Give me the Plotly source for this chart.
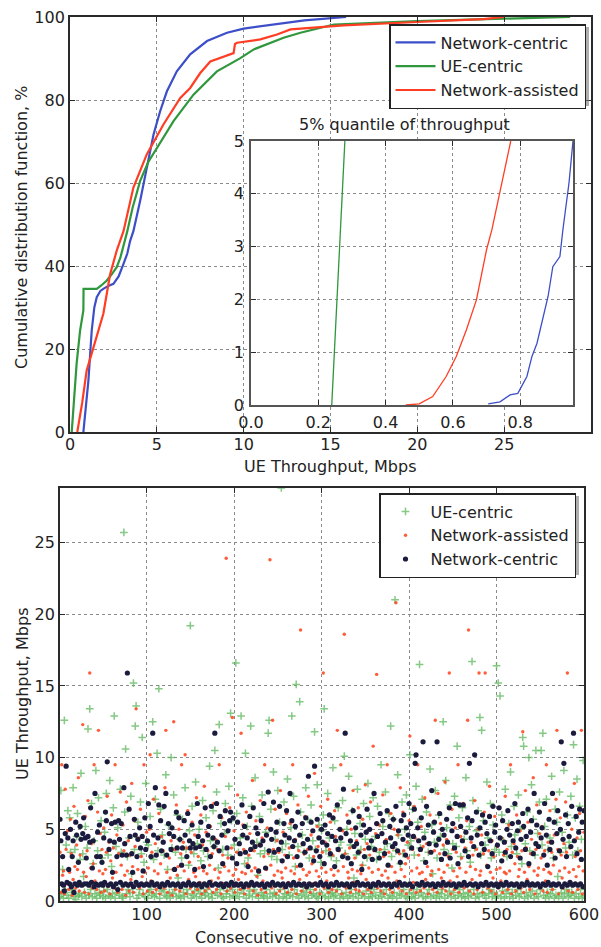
import plotly.graph_objects as go

FONT = "DejaVu Sans"

# ---------------- Top: CDF of UE throughput ----------------
NC_CDF_X = [0.77, 0.9, 1.06, 1.25, 1.4, 1.54, 1.75, 1.92, 2.2, 2.5, 2.8, 3.08, 3.3, 3.46, 3.65,
            4.04, 4.42, 4.81, 5.19, 5.58, 6.15, 6.92, 7.89, 9.04, 10.0, 11.73, 13.5, 15.9]
NC_CDF_Y = [0, 5, 12.4, 24.4, 30, 32.5, 34, 34.5, 35.2, 35.7, 37.5, 40.5, 43, 46, 48.4,
            55.7, 63.7, 71.7, 77.3, 82.1, 86.9, 91, 94.2, 96.2, 97.2, 98.2, 99.2, 100]

UE_CDF_X = [0.1, 0.2, 0.3, 0.38, 0.58, 0.7, 0.77, 0.78, 1.54, 1.8, 2.12, 2.4, 2.69, 2.9, 3.1,
            3.3, 3.6, 4.04, 4.5, 5.0, 5.96, 7.11, 8.46, 9.81, 10.58, 12.3, 13.27, 15.2, 20.0, 25.0, 28.8]
UE_CDF_Y = [0, 6, 12, 16.4, 24.4, 28, 29.3, 34.5, 34.5, 35.3, 36.5, 38, 39.7, 42, 45,
            48.4, 54, 60.5, 65, 68.5, 74.9, 81.3, 86.9, 90.1, 92.2, 95, 96.2, 98.2, 99, 99.6, 100]

NA_CDF_X = [0.42, 0.7, 0.96, 1.35, 1.92, 2.31, 2.69, 3.08, 3.65, 4.42, 5.38, 6.35, 6.92, 7.5,
            8.08, 9.42, 9.5, 9.62, 10.96, 11.92, 12.7, 15.75, 18.9, 20.0, 23.8, 25.0]
NA_CDF_Y = [0, 7, 14.8, 20.4, 28.5, 38, 43.7, 48.4, 58.9, 66.9, 74.1, 80.5, 82.9, 86.5,
            89.3, 91.3, 93.5, 93.8, 94.6, 95.8, 97, 98, 98.5, 98.8, 99.5, 100]

# Inset: 5% quantile
INSET_UE_X = [0.24, 0.25, 0.26, 0.27, 0.279]
INSET_UE_Y = [0, 1.3, 2.6, 3.9, 5]
INSET_NA_X = [0.46, 0.50, 0.54, 0.58, 0.61, 0.64, 0.67, 0.70, 0.716, 0.745, 0.772]
INSET_NA_Y = [0, 0.02, 0.16, 0.54, 0.92, 1.42, 1.99, 2.94, 3.32, 4.2, 5]
INSET_NC_X = [0.705, 0.74, 0.77, 0.793, 0.82, 0.835, 0.85, 0.865, 0.883, 0.897, 0.918, 0.927, 0.945, 0.957]
INSET_NC_Y = [0.02, 0.06, 0.19, 0.22, 0.54, 0.92, 1.17, 1.55, 2.06, 2.62, 2.81, 3.32, 4.2, 5]

TOP_XTICKS = [0, 5, 10, 15, 20, 25, 30]
TOP_YTICKS = [0, 20, 40, 60, 80, 100]
INSET_XTICKS = [0.0, 0.2, 0.4, 0.6, 0.8]
INSET_XTICKTEXT = ["0.0", "0.2", "0.4", "0.6", "0.8"]
INSET_YTICKS = [0, 1, 2, 3, 4, 5]
BOT_XTICKS = [100, 200, 300, 400, 500, 600]
BOT_YTICKS = [0, 5, 10, 15, 20, 25]

NC_TP = [
    5.7, 4.2, 1.2, 3.1, 1.1, 0.7, 4.7, 9.4, 1.3, 4.4,
    2.2, 1.2, 5.0, 1.0, 3.1, 4.2, 0.6, 1.2, 5.5, 4.6,
    1.1, 2.7, 1.3, 5.2, 4.3, 1.1, 4.7, 5.8, 1.2, 4.4,
    3.0, 1.2, 4.5, 1.1, 4.1, 6.5, 1.3, 2.3, 4.2, 1.0,
    7.5, 1.2, 3.1, 4.8, 1.1, 5.3, 3.1, 1.2, 2.7, 1.1,
    4.4, 1.3, 6.2, 5.6, 9.7, 1.1, 3.6, 4.2, 1.2, 5.4,
    2.0, 1.0, 4.1, 5.5, 1.2, 3.1, 0.8, 5.6, 4.3, 1.3,
    5.4, 3.2, 1.1, 7.9, 4.0, 1.2, 3.2, 15.9, 1.1, 6.4,
    4.5, 1.2, 3.3, 2.0, 1.0, 5.7, 4.6, 1.3, 3.1, 4.3,
    1.1, 5.1, 3.7, 1.2, 4.5, 2.1, 1.1, 5.8, 3.6, 1.2,
    4.2, 6.8, 1.1, 5.2, 3.1, 1.3, 11.7, 4.6, 1.1, 7.9,
    3.2, 1.2, 4.4, 6.7, 1.0, 5.6, 3.5, 1.2, 4.1, 6.6,
    1.1, 7.5, 3.2, 1.3, 5.4, 4.7, 1.1, 3.6, 5.1, 1.2,
    4.5, 2.2, 1.1, 6.2, 3.7, 1.2, 5.8, 4.3, 1.0, 2.5,
    3.7, 1.2, 5.6, 4.6, 1.1, 3.1, 6.1, 1.3, 4.2, 3.7,
    1.1, 5.3, 4.0, 1.2, 2.2, 3.7, 1.1, 6.8, 4.5, 1.2,
    3.8, 5.5, 1.0, 4.2, 2.4, 1.2, 6.5, 3.6, 1.1, 4.6,
    5.2, 1.3, 3.1, 6.6, 1.1, 4.4, 3.8, 11.7, 1.2, 6.8,
    4.1, 1.1, 3.5, 5.9, 1.2, 4.6, 2.6, 1.0, 5.4, 6.3,
    1.2, 3.7, 4.9, 1.1, 5.6, 6.2, 1.3, 3.0, 5.8, 1.1,
    4.3, 1.2, 2.6, 5.5, 1.1, 4.0, 3.3, 1.2, 6.7, 4.6,
    1.0, 5.2, 3.4, 1.2, 4.4, 2.4, 1.1, 5.9, 3.6, 1.3,
    4.1, 6.5, 1.1, 3.8, 5.1, 1.2, 4.7, 2.1, 1.1, 3.9,
    5.6, 1.2, 4.2, 6.8, 1.0, 2.3, 4.6, 1.2, 7.6, 3.5,
    1.1, 5.0, 4.3, 1.3, 6.9, 3.4, 1.1, 4.8, 5.5, 1.2,
    3.6, 6.6, 1.1, 4.1, 2.8, 1.2, 5.4, 4.6, 1.0, 6.3,
    3.1, 1.2, 4.4, 7.5, 1.1, 5.6, 3.8, 1.3, 4.2, 5.2,
    1.1, 3.1, 6.2, 1.2, 4.6, 2.5, 1.1, 5.4, 4.0, 1.2,
    3.4, 5.8, 1.0, 4.3, 8.7, 1.2, 3.7, 5.5, 1.1, 4.9,
    2.8, 9.4, 1.2, 3.5, 5.7, 1.1, 4.4, 3.1, 1.3, 5.0,
    4.1, 1.1, 2.6, 5.3, 1.2, 3.9, 4.7, 1.0, 6.0, 3.3,
    1.2, 4.5, 5.8, 1.1, 2.4, 4.2, 1.3, 6.7, 3.6, 1.1,
    5.0, 4.4, 1.2, 3.1, 7.8, 1.1, 11.7, 4.7, 1.2, 3.0,
    5.5, 1.0, 4.2, 2.6, 1.2, 6.3, 3.8, 1.1, 5.1, 4.0,
    1.3, 3.4, 5.9, 1.1, 4.6, 2.2, 1.2, 5.3, 3.1, 1.1,
    4.8, 6.4, 1.2, 3.7, 5.0, 1.0, 4.2, 2.9, 1.2, 7.5,
    3.6, 1.1, 5.4, 4.5, 1.3, 3.0, 6.1, 1.1, 4.7, 5.6,
    1.2, 3.3, 4.1, 1.1, 6.3, 2.5, 1.2, 5.2, 4.4, 1.0,
    3.8, 5.7, 1.2, 4.0, 6.6, 1.1, 3.5, 4.9, 1.3, 2.7,
    5.6, 1.1, 4.3, 6.0, 1.2, 3.2, 5.1, 1.1, 4.6, 6.8,
    1.2, 5.4, 3.7, 1.0, 4.5, 6.4, 9.6, 10.2, 1.2, 5.1,
    4.2, 1.1, 3.6, 5.8, 1.3, 11.1, 4.4, 1.1, 2.7, 6.6,
    1.2, 5.3, 4.0, 1.1, 3.4, 7.7, 1.2, 4.8, 5.5, 1.0,
    3.9, 11.1, 1.2, 4.3, 6.1, 1.1, 2.9, 5.0, 1.3, 4.6,
    3.3, 1.1, 5.7, 4.1, 1.2, 6.5, 3.0, 1.1, 4.9, 5.4,
    1.2, 3.7, 6.8, 1.0, 4.5, 2.6, 1.2, 6.7, 5.2, 1.1,
    4.2, 6.7, 1.3, 3.5, 4.8, 1.1, 5.8, 3.1, 9.6, 1.2,
    4.4, 5.6, 1.1, 3.8, 10.2, 1.2, 6.2, 4.6, 1.0, 3.2,
    5.1, 1.2, 4.0, 6.0, 1.1, 3.6, 5.5, 1.3, 4.7, 2.4,
    1.1, 5.9, 4.2, 1.2, 3.3, 6.6, 1.1, 4.8, 5.3, 1.2,
    3.9, 1.0, 6.5, 4.4, 1.2, 2.8, 5.6, 1.1, 4.1, 3.4,
    1.3, 5.0, 6.3, 1.1, 4.6, 3.1, 1.2, 5.4, 4.2, 1.1,
    6.8, 3.7, 1.2, 4.9, 5.5, 1.0, 3.0, 4.3, 1.2, 6.1,
    5.2, 1.1, 3.6, 4.5, 1.3, 6.4, 2.6, 1.1, 4.8, 5.6,
    1.2, 3.3, 7.5, 1.1, 4.0, 5.3, 1.2, 3.8, 6.2, 1.0,
    4.4, 5.1, 1.2, 3.2, 6.8, 1.1, 4.6, 2.5, 1.3, 5.7,
    3.6, 1.1, 4.1, 7.5, 1.2, 5.5, 3.0, 1.1, 4.7, 6.3,
    1.2, 3.5, 5.0, 11.1, 1.0, 4.3, 9.6, 1.2, 6.0, 3.1,
    1.1, 5.4, 4.5, 1.3, 3.8, 6.6, 1.1, 11.7, 4.2, 1.2,
    5.9, 3.3, 1.1, 4.8, 6.4, 1.2, 2.9, 5.5, 1.0, 6.3,
]

UE_TP = [
    0.3, 7.7, 0.5, 2.2, 0.2, 12.6, 0.8, 3.9, 0.4, 6.3,
    0.2, 5.8, 3.4, 0.6, 0.8, 7.9, 0.3, 3.6, 0.1, 4.5,
    6.1, 0.4, 0.5, 2.9, 8.9, 0.3, 3.3, 1.7, 0.6, 5.2,
    0.2, 3.7, 12.0, 0.4, 13.4, 0.8, 6.8, 0.3, 2.6, 4.2,
    0.5, 9.1, 0.2, 3.5, 7.2, 0.6, 0.4, 5.6, 3.0, 0.3,
    0.7, 4.8, 0.2, 7.5, 0.8, 3.2, 0.4, 8.4, 0.3, 2.4,
    0.5, 6.5, 12.9, 0.2, 3.8, 0.6, 5.1, 0.8, 0.4, 7.8,
    3.4, 0.3, 0.2, 25.7, 6.2, 10.6, 0.5, 3.1, 0.8, 4.4,
    0.3, 7.3, 1.9, 0.6, 15.2, 3.6, 12.2, 13.6, 0.2, 5.5,
    0.4, 0.8, 6.9, 3.3, 11.4, 0.5, 2.7, 0.3, 8.2, 4.1,
    0.2, 3.9, 0.6, 5.9, 0.8, 0.4, 12.5, 2.9, 0.3, 7.1,
    0.5, 10.3, 3.5, 14.8, 0.2, 6.4, 0.7, 4.6, 0.8, 3.2,
    0.4, 8.8, 0.3, 2.2, 5.3, 0.6, 0.2, 10.0, 3.7, 0.5,
    7.4, 0.8, 3.4, 0.3, 6.0, 1.6, 0.4, 4.3, 0.2, 3.0,
    5.7, 0.6, 0.3, 7.9, 3.6, 0.8, 0.5, 2.5, 4.9, 19.2,
    0.2, 6.6, 0.4, 3.3, 0.7, 8.3, 0.3, 4.0, 0.8, 5.0,
    0.5, 2.8, 0.2, 7.0, 3.5, 0.6, 0.4, 5.8, 0.8, 3.1,
    0.3, 9.4, 4.2, 0.5, 0.2, 6.3, 3.8, 10.5, 0.6, 7.6,
    0.4, 2.3, 12.3, 0.8, 5.4, 0.3, 3.6, 0.2, 4.7, 6.8,
    0.5, 0.7, 3.2, 8.0, 0.3, 13.1, 5.6, 0.8, 0.4, 3.9,
    0.2, 16.6, 6.1, 0.6, 3.4, 0.3, 4.4, 12.9, 0.8, 7.2,
    0.5, 2.6, 10.3, 0.2, 5.2, 3.0, 0.4, 0.7, 12.2, 6.6,
    0.3, 3.7, 0.8, 8.6, 0.5, 4.1, 1.8, 0.2, 5.9, 3.3,
    0.6, 7.4, 0.4, 0.3, 3.5, 4.8, 0.8, 0.2, 11.7, 12.6,
    0.5, 6.4, 3.1, 0.3, 9.0, 0.6, 4.3, 0.4, 2.9, 7.7,
    0.2, 5.5, 0.8, 28.8, 3.6, 0.3, 6.9, 0.5, 4.0, 0.2,
    8.5, 0.6, 3.2, 0.4, 5.1, 12.9, 0.3, 7.3, 0.8, 2.4,
    15.1, 0.5, 3.8, 0.2, 13.9, 6.2, 0.4, 4.6, 0.7, 3.4,
    0.3, 7.9, 0.6, 5.7, 0.2, 3.0, 0.8, 6.7, 0.4, 4.2,
    0.5, 11.8, 3.6, 0.3, 8.1, 0.2, 5.3, 0.6, 2.7, 4.9,
    0.4, 6.0, 13.4, 0.3, 3.5, 0.8, 7.5, 0.2, 4.4, 0.5,
    3.1, 0.6, 9.3, 0.3, 5.6, 0.4, 2.8, 0.8, 6.5, 3.7,
    0.2, 4.1, 0.5, 7.0, 0.3, 10.1, 3.3, 0.6, 5.0, 0.2,
    8.7, 0.4, 3.9, 0.8, 6.3, 0.3, 1.6, 4.7, 0.5, 3.2,
    7.8, 0.2, 0.6, 5.4, 3.6, 0.4, 2.5, 6.8, 0.3, 4.3,
    0.7, 3.0, 8.2, 0.2, 5.9, 0.5, 3.8, 0.3, 7.2, 0.8,
    4.5, 0.4, 2.9, 6.6, 0.2, 3.4, 0.6, 9.5, 0.3, 5.2,
    0.5, 3.6, 7.6, 0.8, 4.0, 0.2, 6.1, 0.4, 12.2, 3.1,
    0.3, 5.7, 0.6, 21.0, 3.5, 0.2, 8.8, 4.6, 0.5, 2.6,
    0.4, 6.9, 3.3, 0.8, 5.0, 0.3, 7.4, 0.2, 3.9, 0.6,
    10.2, 4.2, 0.3, 6.4, 0.5, 3.2, 0.2, 8.0, 0.8, 5.5,
    0.4, 16.5, 3.7, 0.6, 7.1, 0.3, 2.8, 4.8, 0.2, 6.2,
    0.5, 3.4, 0.8, 9.2, 0.3, 5.3, 1.9, 0.4, 4.1, 7.7,
    0.2, 3.0, 0.6, 6.0, 0.3, 4.5, 0.5, 0.8, 12.5, 3.6,
    0.2, 8.4, 5.1, 0.4, 3.3, 0.7, 6.7, 0.3, 2.3, 4.0,
    0.6, 7.3, 0.2, 3.8, 10.8, 0.4, 5.8, 0.8, 3.1, 0.3,
    6.5, 0.5, 4.3, 0.2, 8.6, 3.5, 0.6, 0.3, 5.2, 2.7,
    0.4, 16.7, 7.0, 0.8, 3.7, 0.2, 4.9, 0.5, 6.3, 0.3,
    12.8, 3.2, 11.9, 0.6, 5.6, 0.4, 3.9, 0.2, 8.3, 4.4,
    0.5, 0.8, 6.8, 3.0, 0.3, 5.3, 0.6, 3.6, 0.2, 16.4,
    0.4, 15.2, 3.4, 14.3, 0.3, 6.0, 0.7, 4.2, 0.2, 7.8,
    0.5, 3.1, 0.8, 5.4, 0.3, 9.0, 3.8, 0.6, 0.2, 6.6,
    4.6, 0.4, 3.3, 0.8, 7.4, 0.3, 5.0, 0.5, 2.6, 11.4,
    10.8, 0.2, 4.0, 0.6, 6.2, 0.3, 10.0, 3.5, 0.4, 8.1,
    0.7, 5.7, 0.2, 3.2, 10.5, 0.5, 4.7, 0.3, 6.9, 0.8,
    10.5, 3.9, 11.7, 0.4, 5.2, 0.2, 7.1, 0.6, 3.6, 0.3,
    4.4, 0.5, 8.7, 0.8, 3.0, 0.2, 6.4, 0.4, 5.5, 1.7,
    0.3, 7.6, 3.4, 0.6, 4.8, 0.2, 9.1, 0.5, 3.7, 0.8,
    6.0, 0.3, 4.1, 0.4, 7.3, 0.6, 3.2, 10.9, 0.2, 5.8,
    0.5, 8.5, 3.5, 0.3, 6.6, 0.8, 4.3, 0.2, 9.8, 0.4,
]

NA_TP = [
    3.4, 0.6, 9.5, 1.8, 2.1, 0.5, 7.8, 3.6, 1.2, 4.9,
    0.8, 2.0, 5.7, 3.3, 0.4, 1.5, 6.6, 2.4, 0.9, 3.9,
    2.2, 8.6, 0.7, 3.2, 1.1, 4.3, 12.3, 2.0, 0.6, 5.9,
    1.7, 3.5, 7.0, 0.5, 15.9, 2.3, 4.0, 0.9, 2.6, 9.5,
    1.4, 3.1, 0.8, 6.2, 11.9, 2.1, 4.7, 0.6, 3.6, 1.9,
    5.1, 0.7, 2.2, 3.4, 7.3, 1.0, 4.1, 0.5, 2.8, 6.0,
    1.6, 3.7, 0.9, 9.5, 2.0, 4.6, 0.6, 3.3, 1.3, 7.6,
    2.5, 0.8, 5.3, 3.5, 1.8, 0.4, 6.9, 2.1, 4.2, 0.7,
    3.2, 1.5, 8.2, 2.4, 0.6, 5.6, 3.8, 13.4, 1.1, 2.2,
    4.4, 0.9, 6.4, 3.1, 1.7, 0.5, 9.5, 2.0, 3.6, 4.8,
    0.7, 2.3, 5.0, 10.2, 1.4, 3.4, 0.6, 7.1, 2.1, 4.0,
    0.8, 3.2, 1.9, 6.1, 0.5, 2.6, 4.5, 1.2, 3.5, 0.9,
    7.9, 11.9, 2.0, 0.6, 5.4, 3.0, 1.6, 4.2, 0.4, 2.2,
    12.5, 3.6, 0.8, 6.7, 1.8, 2.4, 5.0, 0.7, 3.3, 9.5,
    1.1, 4.1, 2.1, 10.2, 0.5, 3.7, 6.3, 1.5, 2.7, 0.9,
    3.4, 5.5, 0.6, 2.0, 4.6, 1.7, 7.2, 0.8, 3.1, 2.3,
    1.3, 6.0, 0.5, 3.9, 2.1, 8.0, 0.7, 4.8, 1.9, 3.5,
    0.9, 2.5, 5.2, 1.4, 3.3, 0.6, 6.8, 2.2, 4.3, 0.8,
    3.6, 1.6, 9.5, 2.0, 0.5, 5.8, 3.2, 1.2, 2.4, 4.5,
    23.9, 0.7, 3.0, 2.1, 6.5, 0.9, 3.7, 12.8, 1.8, 4.9,
    0.6, 2.2, 3.4, 7.4, 1.5, 4.0, 0.8, 11.7, 2.0, 5.3,
    3.6, 0.5, 1.9, 6.2, 2.6, 0.9, 3.2, 4.7, 1.1, 2.1,
    8.4, 0.7, 3.5, 2.3, 5.6, 1.7, 0.4, 3.9, 2.0, 7.0,
    0.8, 4.4, 1.4, 3.1, 9.5, 0.6, 2.2, 5.1, 3.3, 1.2,
    23.8, 2.5, 0.9, 12.6, 3.6, 1.8, 6.4, 0.5, 4.2, 2.1,
    3.4, 0.7, 7.7, 2.0, 1.6, 4.8, 0.9, 3.2, 2.3, 6.1,
    0.6, 1.3, 3.7, 5.4, 2.1, 0.8, 9.5, 3.0, 1.9, 4.3,
    0.5, 2.4, 6.7, 3.5, 1.5, 18.9, 0.7, 4.0, 2.2, 3.3,
    5.9, 0.9, 1.8, 3.6, 7.3, 2.0, 0.6, 4.6, 2.6, 1.2,
    3.1, 8.9, 0.8, 2.1, 5.2, 3.8, 1.7, 0.5, 6.6, 2.3,
    3.4, 15.9, 0.9, 4.1, 2.0, 1.4, 7.1, 0.6, 3.6, 5.5,
    2.2, 0.8, 3.2, 1.8, 6.3, 4.5, 0.7, 11.9, 2.1, 3.5,
    1.1, 9.5, 0.5, 4.9, 2.4, 18.6, 3.3, 0.9, 6.0, 2.0,
    1.6, 3.7, 0.6, 5.0, 2.2, 7.7, 1.3, 3.0, 0.8, 4.2,
    2.1, 6.5, 0.7, 3.4, 1.9, 2.5, 5.7, 0.5, 3.6, 8.1,
    1.5, 4.0, 0.8, 2.3, 3.2, 6.9, 0.6, 2.0, 10.8, 3.5,
    1.2, 4.7, 15.8, 0.9, 2.2, 5.3, 3.6, 0.7, 1.8, 7.4,
    3.1, 0.5, 2.1, 4.3, 9.5, 1.6, 3.4, 0.8, 6.1, 2.4,
    0.6, 3.7, 5.0, 2.0, 20.8, 1.4, 4.6, 0.9, 3.3, 7.9,
    2.2, 0.7, 6.2, 3.5, 1.7, 2.6, 0.5, 4.1, 3.0, 5.6,
    11.5, 0.8, 2.1, 3.6, 1.3, 6.6, 4.4, 0.6, 2.3, 9.5,
    3.2, 1.9, 0.7, 5.2, 2.0, 3.8, 0.9, 7.2, 1.5, 4.0,
    2.4, 0.5, 3.4, 6.0, 1.8, 2.1, 0.8, 4.8, 3.5, 12.6,
    1.1, 0.6, 7.5, 2.2, 3.3, 5.4, 1.6, 0.9, 3.9, 2.0,
    8.3, 0.7, 4.3, 2.5, 3.1, 15.9, 1.4, 0.5, 6.4, 3.6,
    2.1, 0.8, 5.1, 3.4, 1.7, 9.5, 0.6, 2.3, 4.5, 3.0,
    1.2, 6.8, 0.9, 3.7, 2.0, 5.6, 12.6, 18.9, 0.7, 2.4,
    4.1, 1.5, 3.2, 0.5, 7.0, 2.2, 3.6, 0.8, 5.0, 15.9,
    1.8, 2.1, 4.6, 0.6, 3.3, 6.2, 15.9, 1.3, 2.5, 0.9,
    3.5, 8.0, 2.0, 0.7, 4.2, 1.6, 3.1, 5.9, 0.5, 2.2,
    3.8, 0.9, 6.5, 2.3, 1.4, 4.4, 0.6, 3.2, 2.0, 7.3,
    1.9, 3.6, 0.8, 5.3, 2.1, 9.5, 0.5, 3.4, 1.2, 4.0,
    2.6, 0.7, 6.0, 3.1, 1.7, 2.2, 4.9, 0.9, 3.5, 11.8,
    0.6, 2.0, 7.7, 3.7, 1.5, 5.5, 2.4, 0.8, 3.3, 4.3,
    1.1, 8.6, 2.1, 0.5, 3.6, 6.7, 1.8, 2.3, 4.7, 0.9,
    3.0, 5.2, 0.7, 2.2, 3.5, 1.4, 9.5, 0.6, 4.1, 2.0,
    6.3, 1.9, 3.4, 0.8, 2.5, 4.6, 1.2, 7.1, 11.9, 3.6,
    0.5, 2.1, 5.8, 3.2, 1.6, 0.9, 4.0, 2.3, 6.9, 3.4,
    15.9, 0.7, 2.0, 3.7, 1.3, 5.0, 0.6, 2.2, 8.2, 3.1,
    1.7, 4.4, 0.8, 2.4, 6.1, 3.5, 11.9, 0.5, 2.1, 4.8,
]

EXP_NC = list(range(1, len(NC_TP) + 1))
EXP_UE = list(range(1, len(UE_TP) + 1))
EXP_NA = list(range(1, len(NA_TP) + 1))

BLUE = "#3c4ec8"
GREEN = "#2f973c"
RED = "#ff3d24"
SC_GREEN = "#5cb85c"
SC_RED = "#ff4a26"
SC_NAVY = "#1b1b3e"

W, H = 601, 947


def px_x(p):
    return p / W


def px_y(p):
    return 1 - p / H


fig = go.Figure()

# ---- top main CDF ----
fig.add_trace(go.Scatter(x=NC_CDF_X, y=NC_CDF_Y, mode="lines", name="Network-centric",
                         line=dict(color=BLUE, width=2.2), xaxis="x", yaxis="y",
                         legend="legend", legendgroup="a"))
fig.add_trace(go.Scatter(x=UE_CDF_X, y=UE_CDF_Y, mode="lines", name="UE-centric",
                         line=dict(color=GREEN, width=2.2), xaxis="x", yaxis="y",
                         legend="legend", legendgroup="b"))
fig.add_trace(go.Scatter(x=NA_CDF_X, y=NA_CDF_Y, mode="lines", name="Network-assisted",
                         line=dict(color=RED, width=2.2), xaxis="x", yaxis="y",
                         legend="legend", legendgroup="c"))

# ---- bottom scatter ----
fig.add_trace(go.Scatter(x=EXP_UE, y=UE_TP, mode="markers", name="UE-centric",
                         marker=dict(symbol="cross-thin", size=5.5, color=SC_GREEN, opacity=0.75,
                                     line=dict(color=SC_GREEN, width=1.5)),
                         xaxis="x2", yaxis="y2", legend="legend2", legendgroup="d"))
fig.add_trace(go.Scatter(x=EXP_NA, y=NA_TP, mode="markers", name="Network-assisted",
                         marker=dict(symbol="circle", size=3.4, color=SC_RED, opacity=0.9),
                         xaxis="x2", yaxis="y2", legend="legend2", legendgroup="e"))
fig.add_trace(go.Scatter(x=EXP_NC, y=NC_TP, mode="markers", name="Network-centric",
                         marker=dict(symbol="circle", size=5.2, color=SC_NAVY),
                         xaxis="x2", yaxis="y2", legend="legend2", legendgroup="f"))

# ---- inset ----
fig.add_trace(go.Scatter(x=INSET_UE_X, y=INSET_UE_Y, mode="lines", showlegend=False,
                         line=dict(color=GREEN, width=1.3), xaxis="x3", yaxis="y3"))
fig.add_trace(go.Scatter(x=INSET_NA_X, y=INSET_NA_Y, mode="lines", showlegend=False,
                         line=dict(color=RED, width=1.3), xaxis="x3", yaxis="y3"))
fig.add_trace(go.Scatter(x=INSET_NC_X, y=INSET_NC_Y, mode="lines", showlegend=False,
                         line=dict(color=BLUE, width=1.3), xaxis="x3", yaxis="y3"))

axis_common = dict(showline=True, linecolor="#2a2a2a", linewidth=1.8, mirror="ticks",
                   ticks="inside", ticklen=5, tickcolor="#2a2a2a", tickwidth=1,
                   showgrid=True, gridcolor="#8a8a8a", griddash="dot", gridwidth=1,
                   zeroline=False, automargin=False,
                   tickfont=dict(family=FONT, size=16, color="#222"))

fig.update_layout(
    width=W, height=H, autosize=False,
    margin=dict(l=0, r=0, t=0, b=0, autoexpand=False),
    paper_bgcolor="white", plot_bgcolor="white",
    font=dict(family=FONT, size=16, color="#222"),
    xaxis=dict(axis_common, domain=[px_x(70), px_x(591)], range=[0, 30],
               tickvals=TOP_XTICKS, anchor="y", ticklabelstandoff=-3),
    yaxis=dict(axis_common, domain=[px_y(432), px_y(17)], range=[0, 100],
               tickvals=TOP_YTICKS, anchor="x"),
    xaxis2=dict(axis_common, domain=[px_x(60), px_x(584)], range=[1, 600],
                tickvals=BOT_XTICKS, anchor="y2", ticklabelstandoff=-2),
    yaxis2=dict(axis_common, domain=[px_y(901), px_y(488)], range=[0, 28.8],
                tickvals=BOT_YTICKS, anchor="x2"),
    xaxis3=dict(axis_common, domain=[px_x(251), px_x(573)], range=[0, 0.957],
                tickvals=INSET_XTICKS, ticktext=INSET_XTICKTEXT, anchor="y3",
                linecolor="#555", linewidth=1.6, ticklabelstandoff=2),
    yaxis3=dict(axis_common, domain=[px_y(405), px_y(141)], range=[0, 5],
                tickvals=INSET_YTICKS, anchor="x3", linecolor="#555", linewidth=1.6,
                ticklabelstandoff=2),
    legend=dict(x=px_x(586), y=px_y(24), xanchor="right", yanchor="top",
                bgcolor="white", bordercolor="#222", borderwidth=1.5,
                font=dict(family=FONT, size=16, color="#222"),
                tracegroupgap=0, itemwidth=40),
    legend2=dict(x=px_x(576), y=px_y(493), xanchor="right", yanchor="top",
                 bgcolor="white", bordercolor="#222", borderwidth=1.5,
                 font=dict(family=FONT, size=16, color="#222"),
                 tracegroupgap=0, itemwidth=40),
    showlegend=True,
)

# white background for the inset (covers main grid)
fig.add_shape(type="rect", xref="x3", yref="y3", x0=0, x1=0.957, y0=0, y1=5,
              fillcolor="white", line=dict(width=0), layer="below")

# legend shadows
fig.add_shape(type="rect", xref="paper", yref="paper",
              x0=px_x(390), x1=px_x(589), y0=px_y(106), y1=px_y(27),
              fillcolor="rgba(120,120,120,0.6)", line=dict(width=0), layer="above")
fig.add_shape(type="rect", xref="paper", yref="paper",
              x0=px_x(381), x1=px_x(579), y0=px_y(575), y1=px_y(496),
              fillcolor="rgba(120,120,120,0.6)", line=dict(width=0), layer="above")

ann = dict(showarrow=False, xref="paper", yref="paper",
           font=dict(family=FONT, size=16, color="#222"))
fig.add_annotation(ann, text="Cumulative distribution function, %", x=px_x(21), y=px_y(228),
                   textangle=-90, xanchor="center", yanchor="middle")
fig.add_annotation(ann, text="UE Throughput, Mbps", x=px_x(330), y=px_y(466),
                   xanchor="center", yanchor="middle")
fig.add_annotation(ann, text="UE Throughput, Mbps", x=px_x(22), y=px_y(694),
                   textangle=-90, xanchor="center", yanchor="middle")
fig.add_annotation(ann, text="Consecutive no. of experiments", x=px_x(322), y=px_y(937),
                   xanchor="center", yanchor="middle")
fig.add_annotation(ann, text="5% quantile of throughput", x=px_x(404), y=px_y(125),
                   xanchor="center", yanchor="middle")

fig.write_html("out.html", config={"displayModeBar": False},
               post_script="document.body.style.margin='0';document.body.style.padding='0';"
                           "document.body.style.overflow='hidden';")
